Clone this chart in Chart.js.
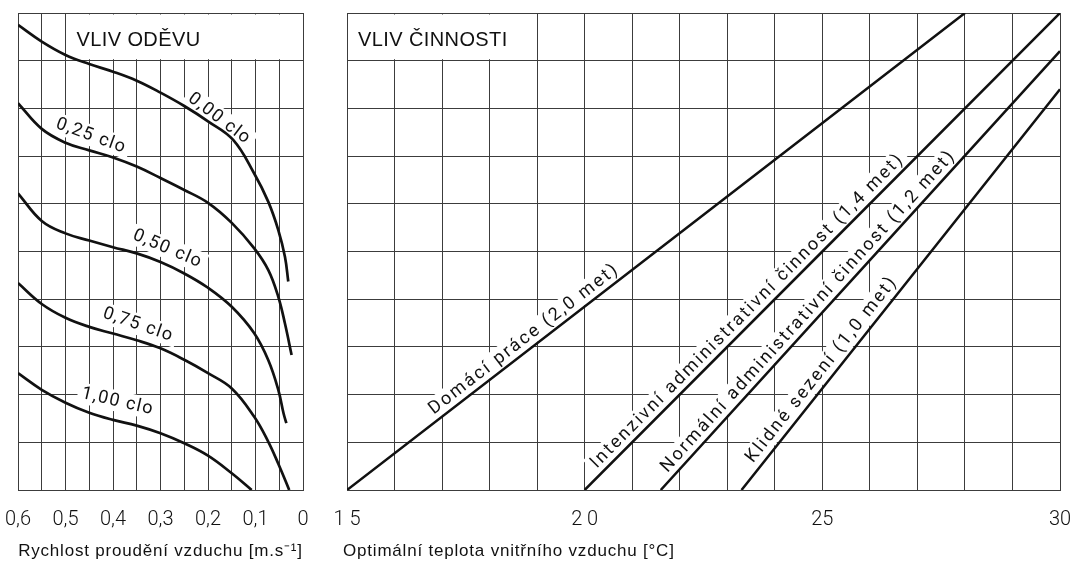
<!DOCTYPE html>
<html>
<head>
<meta charset="utf-8">
<script src="https://cdn.jsdelivr.net/npm/chart.js@4.4.0/dist/chart.umd.min.js"></script>
<style>
    html, body { margin: 0; padding: 0; background: #fff; }
    #wrap { position: relative; width: 1071px; height: 564px; }
    #clothing { position: absolute; left: 0; top: 0; }
    #activity { position: absolute; left: 330px; top: 0; }
</style>
</head>
<body>
<div id="wrap">
    <canvas id="clothing" width="330" height="564"></canvas>
    <canvas id="activity" width="741" height="564"></canvas>
</div>
<script>
// --- VLIV ODĚVU: air speed [m/s] against the (unlabelled) grid level ---
var speedTickValues = [0.6, 0.5, 0.4, 0.3, 0.2, 0.1, 0];
var speedTickLabels = ['0,6', '0,5', '0,4', '0,3', '0,2', '0,1', '0'];

var cloLabels = ['0,00 clo', '0,25 clo', '0,50 clo', '0,75 clo', '1,00 clo'];

var clo000Speed = [0.6, 0.55, 0.5, 0.45, 0.4, 0.35, 0.3, 0.25, 0.2, 0.147, 0.103, 0.073, 0.052, 0.038, 0.031];
var clo000Level = [9.75, 9.40, 9.12, 8.93, 8.77, 8.58, 8.33, 8.05, 7.73, 7.34, 6.64, 6.04, 5.45, 4.89, 4.37];

var clo025Speed = [0.6, 0.55, 0.5, 0.45, 0.4, 0.35, 0.3, 0.25, 0.2, 0.15, 0.103, 0.073, 0.052, 0.038, 0.024];
var clo025Level = [8.11, 7.57, 7.28, 7.12, 6.97, 6.78, 6.54, 6.29, 6.02, 5.60, 5.07, 4.61, 4.05, 3.49, 2.83];

var clo050Speed = [0.6, 0.55, 0.5, 0.45, 0.4, 0.35, 0.3, 0.25, 0.2, 0.15, 0.103, 0.073, 0.052, 0.041, 0.035];
var clo050Level = [6.22, 5.64, 5.38, 5.23, 5.09, 4.96, 4.78, 4.54, 4.24, 3.84, 3.29, 2.72, 2.10, 1.61, 1.40];

var clo075Speed = [0.6, 0.55, 0.5, 0.45, 0.4, 0.35, 0.3, 0.25, 0.2, 0.15, 0.103, 0.073, 0.052, 0.029];
var clo075Level = [4.34, 3.90, 3.61, 3.42, 3.28, 3.14, 2.97, 2.73, 2.45, 2.13, 1.54, 1.01, 0.55, 0];

var clo100Speed = [0.6, 0.55, 0.5, 0.45, 0.4, 0.35, 0.3, 0.25, 0.2, 0.15, 0.108];
var clo100Level = [2.45, 2.10, 1.83, 1.62, 1.47, 1.35, 1.19, 0.98, 0.72, 0.35, 0];

// --- VLIV ČINNOSTI: optimal indoor temperature [°C] ---
var tempTickValues = [15, 20, 25, 30];
var tempTickLabels = ['1 5', '2 0', '25', '30'];

var activityLabels = [
    'Domácí práce (2,0 met)',
    'Intenzivní administrativní činnost (1,4 met)',
    'Normální administrativní činnost (1,2 met)',
    'Klidné sezení (1,0 met)'
];

var domaciTemp = [15, 28];
var domaciLevel = [0, 10];
var intenzivniTemp = [20, 30];
var intenzivniLevel = [0, 10];
var normalniTemp = [21.6, 30];
var normalniLevel = [0, 9.2];
var klidneTemp = [23.3, 30];
var klidneLevel = [0, 8.4];

var INK = '#111';
var GRID = '#3c3c3c';
var LABEL_FONT = '400 18px Roboto, "DejaVu Sans", sans-serif';

function points(xs, ys)
{
    return xs.map(function (x, i) { return { x: x, y: ys[i] }; });
}

function curve(xs, ys, width)
{
    return {
        data: points(xs, ys),
        showLine: true,
        borderColor: INK,
        borderWidth: width,
        pointRadius: 0,
        tension: 0.4
    };
}

function tickLabel(values, labels)
{
    return function (value) {
        for (var i = 0; i < values.length; i++) {
            if (Math.abs(values[i] - value) < 1e-6) return labels[i];
        }
        return '';
    };
}

function toPx(chart, x, y)
{
    return { x: chart.scales.x.getPixelForValue(x), y: chart.scales.y.getPixelForValue(y) };
}

// where a label sits: either a given centre and angle, or along a dataset line
function labelPlace(chart, lab)
{
    if (lab.line === undefined) {
        var p = toPx(chart, lab.x, lab.y);
        return { x: p.x, y: p.y, angle: lab.angle * Math.PI / 180 };
    }
    var d = chart.data.datasets[lab.line].data;
    var a = toPx(chart, d[0].x, d[0].y);
    var b = toPx(chart, d[d.length - 1].x, d[d.length - 1].y);
    var t = (lab.along - d[0].x) / (d[d.length - 1].x - d[0].x);
    var dx = b.x - a.x, dy = b.y - a.y, len = Math.sqrt(dx * dx + dy * dy);
    var ux = dx / len, uy = dy / len;
    return {
        x: a.x + dx * t + uy * lab.offset,
        y: a.y + dy * t - ux * lab.offset,
        angle: Math.atan2(dy, dx)
    };
}

function drawLabel(chart, lab, opts, patchOnly)
{
    var ctx = chart.ctx;
    var p = labelPlace(chart, lab);
    ctx.save();
    ctx.translate(p.x, p.y);
    ctx.rotate(p.angle);
    ctx.font = LABEL_FONT;
    ctx.letterSpacing = opts.spacing;
    var w = ctx.measureText(lab.text).width;
    if (patchOnly) {
        ctx.fillStyle = '#fff';
        ctx.fillRect(-w / 2 - 4, -11, w + 8, 21);
    } else {
        ctx.fillStyle = INK;
        ctx.textAlign = 'center';
        ctx.textBaseline = 'middle';
        ctx.fillText(lab.text, 0, 0);
    }
    ctx.restore();
}

var panelText = {
    id: 'panelText',
    beforeDatasetsDraw(chart, args, opts)
    {
        var ctx = chart.ctx;
        var a = toPx(chart, opts.box[0], opts.box[1]);
        var b = toPx(chart, opts.box[2], opts.box[3]);
        var l = Math.min(a.x, b.x), r = Math.max(a.x, b.x);
        var t = Math.min(a.y, b.y), bt = Math.max(a.y, b.y);
        ctx.save();
        ctx.fillStyle = '#fff';
        ctx.fillRect(l + 1.5, t + 1.5, r - l - 3, bt - t - 3);
        ctx.fillStyle = INK;
        ctx.font = '20px "Liberation Sans", Arial, sans-serif';
        ctx.letterSpacing = '0.4px';
        ctx.textBaseline = 'alphabetic';
        ctx.fillText(opts.title, l + 11, bt - 15);
        ctx.restore();
        opts.labels.forEach(function (lab) { drawLabel(chart, lab, opts, true); });
    },
    afterDatasetsDraw(chart, args, opts)
    {
        opts.labels.forEach(function (lab) { drawLabel(chart, lab, opts, false); });
    },
    afterDraw(chart, args, opts)
    {
        var ctx = chart.ctx;
        var area = chart.chartArea;
        ctx.save();
        ctx.fillStyle = INK;
        ctx.font = '17px "Liberation Sans", Arial, sans-serif';
        ctx.letterSpacing = '0.8px';
        ctx.textBaseline = 'alphabetic';
        if (opts.axisAlign === 'center') {
            ctx.textAlign = 'center';
            ctx.fillText(opts.axisTitle, (area.left + area.right) / 2, 556);
        } else {
            ctx.textAlign = 'left';
            ctx.fillText(opts.axisTitle, area.left - 4, 556);
        }
        ctx.restore();
    }
};

function baseOptions(xScale, padding, text)
{
    return {
        responsive: false,
        animation: false,
        events: [],
        layout: { padding: padding },
        plugins: {
            legend: { display: false },
            tooltip: { enabled: false },
            panelText: text
        },
        scales: {
            x: Object.assign({
                type: 'linear',
                grid: { color: GRID, lineWidth: 1, drawTicks: false },
                border: { color: GRID },
                afterFit: function (scale) {
                    scale.height = 74;
                    scale.paddingLeft = 0;
                    scale.paddingRight = 0;
                }
            }, xScale),
            y: {
                type: 'linear',
                min: 0,
                max: 10,
                ticks: { display: false, stepSize: 1 },
                grid: { color: GRID, lineWidth: 1, drawTicks: false },
                border: { color: GRID },
                afterFit: function (scale) { scale.width = 0; }
            }
        }
    };
}

var tickFont = { family: 'Roboto, "DejaVu Sans", sans-serif', size: 20, weight: 300 };

new Chart(document.getElementById('clothing'), {
    type: 'scatter',
    data: {
        datasets: [
            curve(clo000Speed, clo000Level, 2.7),
            curve(clo025Speed, clo025Level, 2.7),
            curve(clo050Speed, clo050Level, 2.7),
            curve(clo075Speed, clo075Level, 2.7),
            curve(clo100Speed, clo100Level, 2.7)
        ]
    },
    options: baseOptions({
        min: 0,
        max: 0.6,
        reverse: true,
        ticks: {
            stepSize: 0.05,
            autoSkip: false,
            maxRotation: 0,
            padding: 18,
            color: INK,
            font: tickFont,
            callback: tickLabel(speedTickValues, speedTickLabels)
        }
    }, { left: 18, right: 27, top: 13, bottom: 0 }, {
        title: 'VLIV ODĚVU',
        box: [0.5, 9, 0, 10],
        spacing: '1.4px',
        axisTitle: 'Rychlost proudění vzduchu [m.s⁻¹]',
        axisAlign: 'center',
        labels: [
            { text: cloLabels[0], x: 0.176, y: 7.78, angle: 37 },
            { text: cloLabels[1], x: 0.446, y: 7.42, angle: 20 },
            { text: cloLabels[2], x: 0.285, y: 5.05, angle: 23 },
            { text: cloLabels[3], x: 0.347, y: 3.46, angle: 19 },
            { text: cloLabels[4], x: 0.39, y: 1.85, angle: 13 }
        ]
    }),
    plugins: [panelText]
});

new Chart(document.getElementById('activity'), {
    type: 'scatter',
    data: {
        datasets: [
            curve(domaciTemp, domaciLevel, 2.5),
            curve(intenzivniTemp, intenzivniLevel, 2.5),
            curve(normalniTemp, normalniLevel, 2.5),
            curve(klidneTemp, klidneLevel, 2.5)
        ]
    },
    options: baseOptions({
        min: 15,
        max: 30,
        ticks: {
            stepSize: 1,
            autoSkip: false,
            maxRotation: 0,
            padding: 18,
            color: INK,
            font: tickFont,
            callback: tickLabel(tempTickValues, tempTickLabels)
        }
    }, { left: 17, right: 11, top: 13, bottom: 0 }, {
        title: 'VLIV ČINNOSTI',
        box: [15, 9, 19, 10],
        spacing: '2.2px',
        axisTitle: 'Optimální teplota vnitřního vzduchu [°C]',
        axisAlign: 'left',
        labels: [
            { text: activityLabels[0], line: 0, along: 18.87, offset: 11 },
            { text: activityLabels[1], line: 1, along: 23.59, offset: 11 },
            { text: activityLabels[2], line: 2, along: 24.88, offset: 11 },
            { text: activityLabels[3], line: 3, along: 25.19, offset: 12 }
        ]
    }),
    plugins: [panelText]
});
</script>
</body>
</html>
